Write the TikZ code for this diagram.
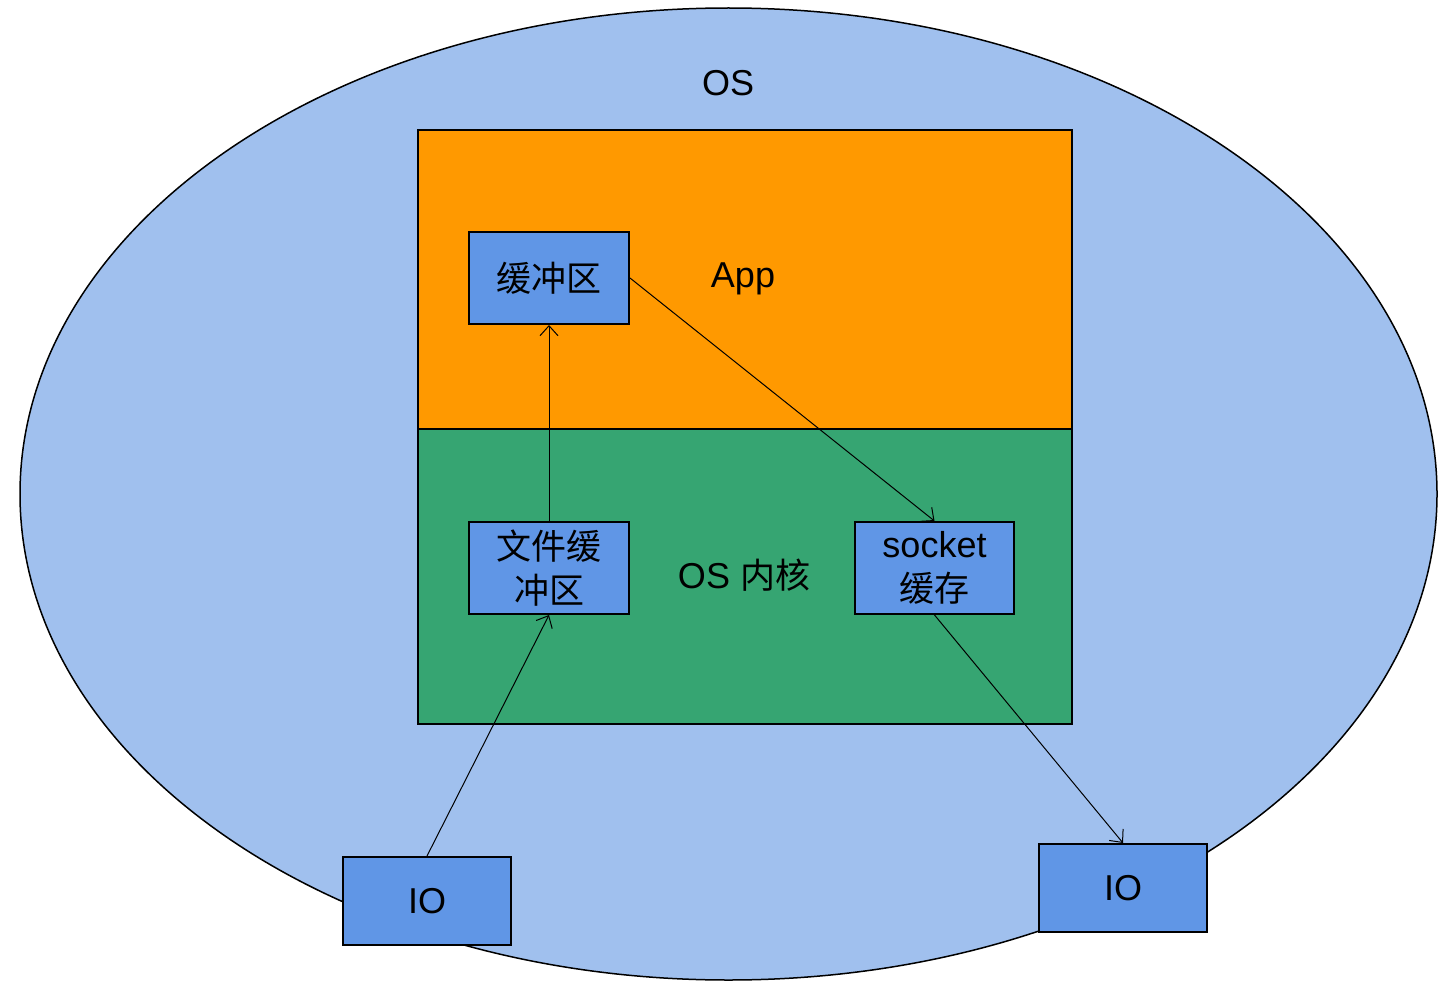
\documentclass[tikz,border=0pt]{standalone}
\usepackage{fontspec}
\setmainfont{Liberation Sans}
\newfontfamily\cjk{Noto Sans CJK SC}
\newcommand{\zh}[1]{{\cjk\fontsize{17.5}{22}\selectfont #1}}
\usetikzlibrary{arrows.meta,shapes.geometric}
\definecolor{osblue}{HTML}{A0C0EE}
\definecolor{apporange}{HTML}{FF9900}
\definecolor{kgreen}{HTML}{36A572}
\definecolor{boxblue}{HTML}{6096E6}
\tikzset{
  lbl/.style={font=\fontsize{18}{22}\selectfont, text=black, align=center},
  bufbox/.style={draw=black, line width=1pt, fill=boxblue, inner sep=0pt, font=\fontsize{18}{22}\selectfont, align=center},
  flow/.style={draw=black, line width=0.5pt, -{Straight Barb[length=5pt,width=9pt,line width=0.5pt]}}
}
\begin{document}
\begin{tikzpicture}[x=0.5pt,y=-0.5pt]
\useasboundingbox (0,0) rectangle (1446,990);
\node[draw=black, line width=0.75pt, fill=osblue, ellipse, minimum width=1417*0.5pt, minimum height=972*0.5pt, inner sep=0pt] (os) at (728.5,494) {};
\node[lbl] (ostext) at (728,83) {OS};
\node[draw=black, line width=1pt, fill=apporange, minimum width=654*0.5pt, minimum height=299*0.5pt, inner sep=0pt, anchor=north west] (app) at (417,129) {};
\node[draw=black, line width=1pt, fill=kgreen, minimum width=654*0.5pt, minimum height=295*0.5pt, inner sep=0pt, anchor=north west] (kernel) at (417,428) {};
\node[lbl] (apptext) at (743,279) {App};
\node[lbl] (kerneltext) at (744,575) {OS \zh{内核}};
\node[bufbox, minimum width=160*0.5pt, minimum height=92*0.5pt] (buf) at (549,278) {\zh{缓冲区}};
\node[bufbox, minimum width=160*0.5pt, minimum height=92*0.5pt] (fbuf) at (549,568) {\zh{文件缓}\\\zh{冲区}};
\node[bufbox, minimum width=159*0.5pt, minimum height=92*0.5pt] (sock) at (934.5,568) {socket\\\zh{缓存}};
\node[bufbox, minimum width=168*0.5pt, minimum height=88*0.5pt] (io1) at (427,901) {IO};
\node[bufbox, minimum width=168*0.5pt, minimum height=88*0.5pt] (io2) at (1123,888) {IO};
\draw[flow] (fbuf.north) -- (buf.south);
\draw[flow] (buf.east) -- (sock.north);
\draw[flow] (io1.north) -- (fbuf.south);
\draw[flow] (sock.south) -- (io2.north);
\end{tikzpicture}
\end{document}
